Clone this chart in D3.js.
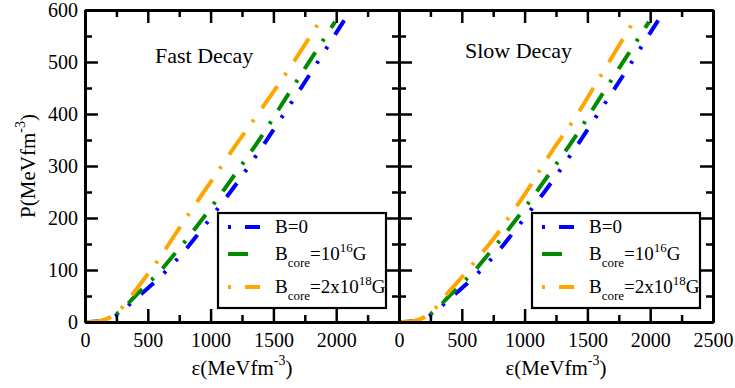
<!DOCTYPE html>
<html><head><meta charset="utf-8">
<script src="https://cdn.jsdelivr.net/npm/d3@7"></script>
<style>
body{margin:0;background:#fff}
svg{display:block}
svg text, svg tspan{font-family:'Liberation Serif', 'Times New Roman', Times, serif !important;fill:#000}
</style>
</head><body>
<svg id="chart" width="735" height="388"></svg>
<script>
// ---- data ----
const panelTitles = ["Fast Decay", "Slow Decay"];
const seriesLabels = ["B=0", "B_core=10^16G", "B_core=2x10^18G"];
const seriesColors = ["#0000ff", "#008b00", "#ffa500"];

const epsB0  = [0,100,200,250,300,400,500,600,700,800,900,1000,1200,1400,1600,1800,2000,2090];
const pB0    = [0,1,7,13,22,44,65,87,112,139,169,200,264,333,406,480,556,590];
const epsB16 = [0,100,200,250,300,400,500,600,700,800,900,1000,1200,1400,1600,1800,1990];
const pB16   = [0,1,8,15,25,50,74,98,127,156,187,219,286,355,431,506,577];
const epsB18 = [0,100,200,250,300,400,500,600,700,800,900,1000,1200,1400,1600,1800,1870];
const pB18Fast = [0,1,9,18,29,60,92,125,162,198,234,269,340,408,478,552,579];
const pB18Slow = [0,1,9,18,29,59,86,115,144,175,210,245,322,392,471,551,579];

const xMajorTicks = [0,500,1000,1500,2000,2500];
const xMinorTicks = [250,750,1250,1750,2250];
const yMajorTicks = [0,100,200,300,400,500,600];
const yMinorTicks = [50,150,250,350,450,550];
const xTickLabelsLeft  = ["0","500","1000","1500","2000",""];
const xTickLabelsRight = ["0","500","1000","1500","2000","2500"];

// ---- layout ----
const svg = d3.select("#chart");
const FONT = "'Liberation Serif', 'Times New Roman', serif";
const yTop = 10, yBottom = 322;
const panelsGeom = [{x0:85, x1:399}, {x0:399, x1:713}];
const y = d3.scaleLinear().domain([0,600]).range([yBottom, yTop]);

const dashes = ["17,14,3,14,3,14", "20,13,3,13", "27,13,3,14"];
const legendOffsets = [48, 0, 40];

const panelSeries = [
  [[epsB0,pB0],[epsB16,pB16],[epsB18,pB18Fast]],
  [[epsB0,pB0],[epsB16,pB16],[epsB18,pB18Slow]]
];

const defs = svg.append("defs");

panelsGeom.forEach((g, pi) => {
  const x = d3.scaleLinear().domain([0,2500]).range([g.x0, g.x1]);
  const gp = svg.append("g");

  defs.append("clipPath").attr("id","clip"+pi)
    .append("rect").attr("x",g.x0).attr("y",yTop).attr("width",g.x1-g.x0).attr("height",yBottom-yTop);

  // curves
  const line = d3.line().x(d=>x(d[0])).y(d=>y(d[1])).curve(d3.curveMonotoneX);
  const cg = gp.append("g").attr("clip-path","url(#clip"+pi+")");
  panelSeries[pi].forEach((s, si) => {
    const pts = s[0].map((e,i)=>[e, s[1][i]]);
    cg.append("path").attr("d", line(pts))
      .attr("fill","none").attr("stroke", seriesColors[si])
      .attr("stroke-width",4).attr("stroke-dasharray", dashes[si]);
  });

  // axes (inward ticks on all sides)
  const labels = pi===0 ? xTickLabelsLeft : xTickLabelsRight;
  const styleAxis = sel => {
    sel.attr("font-family", FONT);
    sel.select(".domain").attr("stroke","#000").attr("stroke-width",3);
    sel.selectAll(".tick line").attr("stroke","#000").attr("stroke-width",2.5);
    sel.selectAll("text").attr("font-size",20).style("font-family", FONT);
  };
  gp.append("g").attr("transform",`translate(0,${yBottom})`)
    .call(d3.axisBottom(x).tickValues(xMajorTicks).tickSizeInner(-13).tickSizeOuter(0).tickPadding(11)
      .tickFormat((d,i)=>labels[i]))
    .call(styleAxis);
  gp.append("g").attr("transform",`translate(0,${yBottom})`)
    .call(d3.axisBottom(x).tickValues(xMinorTicks).tickSizeInner(-7).tickSizeOuter(0).tickFormat(""))
    .call(styleAxis);
  gp.append("g").attr("transform",`translate(0,${yTop})`)
    .call(d3.axisTop(x).tickValues(xMajorTicks).tickSizeInner(-13).tickSizeOuter(0).tickFormat(""))
    .call(styleAxis);
  gp.append("g").attr("transform",`translate(0,${yTop})`)
    .call(d3.axisTop(x).tickValues(xMinorTicks).tickSizeInner(-7).tickSizeOuter(0).tickFormat(""))
    .call(styleAxis);
  gp.append("g").attr("transform",`translate(${g.x0},0)`)
    .call(d3.axisLeft(y).tickValues(yMajorTicks).tickSizeInner(-13).tickSizeOuter(0).tickPadding(7)
      .tickFormat(pi===0 ? d3.format("d") : ""))
    .call(styleAxis);
  gp.append("g").attr("transform",`translate(${g.x0},0)`)
    .call(d3.axisLeft(y).tickValues(yMinorTicks).tickSizeInner(-7).tickSizeOuter(0).tickFormat(""))
    .call(styleAxis);
  gp.append("g").attr("transform",`translate(${g.x1},0)`)
    .call(d3.axisRight(y).tickValues(yMajorTicks).tickSizeInner(-13).tickSizeOuter(0).tickFormat(""))
    .call(styleAxis);
  gp.append("g").attr("transform",`translate(${g.x1},0)`)
    .call(d3.axisRight(y).tickValues(yMinorTicks).tickSizeInner(-7).tickSizeOuter(0).tickFormat(""))
    .call(styleAxis);

  // panel title
  gp.append("text").attr("x", g.x0 + (pi===0 ? 70 : 66)).attr("y", pi===0 ? 63 : 58)
    .attr("font-size",22).style("font-family", FONT).text(panelTitles[pi]);

  // x-axis title
  const xt = gp.append("text").attr("x",(g.x0+g.x1)/2).attr("y",375)
    .attr("text-anchor","middle").attr("font-size",21).style("font-family", FONT);
  xt.append("tspan").text("ε(MeVfm");
  xt.append("tspan").attr("dy",-10).attr("font-size",14).text("-3");
  xt.append("tspan").attr("dy",10).text(")");

  // legend
  const lx = g.x0 + 133, ly = 213, lw = 168, lh = 95;
  const lg = gp.append("g");
  lg.append("rect").attr("x",lx).attr("y",ly).attr("width",lw).attr("height",lh)
    .attr("fill","#fff").attr("stroke","#000").attr("stroke-width",2.2);
  const rowsY = [227, 254, 287];
  seriesLabels.forEach((lab, si) => {
    lg.append("line").attr("x1",lx+10).attr("x2",lx+42).attr("y1",rowsY[si]).attr("y2",rowsY[si])
      .attr("stroke",seriesColors[si]).attr("stroke-width",4)
      .attr("stroke-dasharray",dashes[si]).attr("stroke-dashoffset",legendOffsets[si]);
    const t = lg.append("text").attr("x",lx+57).attr("y",rowsY[si]+6).attr("font-size",19)
      .style("font-family", FONT);
    if (si===0) {
      t.text(lab);
    } else {
      const m = lab.match(/^B_core=(.*)\^(\d+)G$/);
      t.append("tspan").text("B");
      t.append("tspan").attr("dy",7).attr("font-size",13).text("core");
      t.append("tspan").attr("dy",-7).text("=" + m[1]);
      t.append("tspan").attr("dy",-8).attr("font-size",13).text(m[2]);
      t.append("tspan").attr("dy",8).text("G");
    }
  });
});

// y-axis title
const yt = svg.append("text").attr("transform",`translate(35,${(yTop+yBottom)/2}) rotate(-90)`)
  .attr("text-anchor","middle").attr("font-size",21).style("font-family", FONT);
yt.append("tspan").text("P(MeVfm");
yt.append("tspan").attr("dy",-10).attr("font-size",14).text("-3");
yt.append("tspan").attr("dy",10).text(")");
</script>
</body></html>
